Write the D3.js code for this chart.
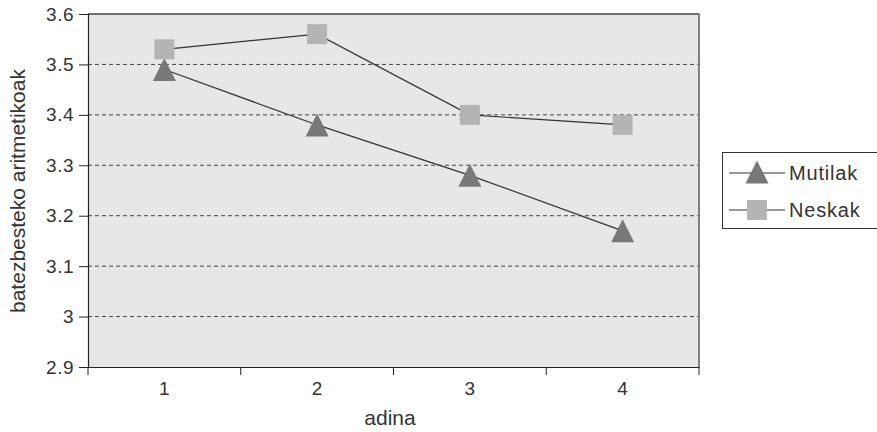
<!DOCTYPE html>
<html><head><meta charset="utf-8">
<script src="https://cdn.jsdelivr.net/npm/d3@7"></script>
<style>body{margin:0;background:#fff}svg{display:block}text{font-family:"Liberation Sans",Arial,sans-serif;fill:#333}</style>
</head><body><svg id="c" width="877" height="432"></svg>
<script>
const categories = ["1","2","3","4"];
const mutilak = [3.49, 3.38, 3.28, 3.17];
const neskak = [3.53, 3.56, 3.40, 3.38];
const yTicks = [2.9, 3, 3.1, 3.2, 3.3, 3.4, 3.5, 3.6];
const seriesNames = ["Mutilak", "Neskak"];

const svg = d3.select("#c");
const L = 88, R = 699, T = 14, B = 367;
const x = d3.scaleBand().domain(categories).range([L, R]);
const y = d3.scaleLinear().domain([2.9, 3.6]).range([B, T]);

svg.append("rect").attr("x", L).attr("y", T).attr("width", R - L).attr("height", B - T).attr("fill", "#e6e7e8");

// grid
svg.append("g").selectAll("line").data(yTicks.filter(d => d > 2.95 && d < 3.55)).join("line")
  .attr("x1", L).attr("x2", R).attr("y1", d => y(d)).attr("y2", d => y(d))
  .attr("stroke", "#444").attr("stroke-width", 1).attr("stroke-dasharray", "4,3");

// border top/right
svg.append("line").attr("x1", L).attr("x2", R).attr("y1", T).attr("y2", T).attr("stroke", "#444").attr("stroke-width", 1.5);
svg.append("line").attr("x1", R).attr("x2", R).attr("y1", T - 0.7).attr("y2", B).attr("stroke", "#808080").attr("stroke-width", 2);

// axes
const yAxis = d3.axisLeft(y).tickValues(yTicks).tickSize(9).tickPadding(5).tickFormat(d => String(+d.toFixed(1)));
const gy = svg.append("g").attr("transform", `translate(${L},0)`).call(yAxis);
gy.select(".domain").attr("stroke", "#222").attr("stroke-width", 1.2);
gy.selectAll(".tick line").attr("stroke", "#222");
gy.selectAll("text").attr("font-size", 19).attr("letter-spacing", 0.5).attr("fill", "#333");

const xAxis = d3.axisBottom(x).tickSize(0).tickPadding(15);
const gx = svg.append("g").attr("transform", `translate(0,${B})`).call(xAxis);
gx.select(".domain").attr("stroke", "#222").attr("stroke-width", 1.2);
gx.selectAll("text").attr("font-size", 19).attr("fill", "#333");
// boundary ticks
const bounds = categories.map(c => x(c)).concat([x(categories[categories.length-1]) + x.bandwidth()]);
svg.append("g").selectAll("line").data(bounds).join("line")
  .attr("x1", d => d).attr("x2", d => d).attr("y1", B).attr("y2", B + 8).attr("stroke", "#222");

const cx = c => x(c) + x.bandwidth() / 2;
const line = d3.line().x((d, i) => cx(categories[i])).y(d => y(d));
svg.append("path").datum(mutilak).attr("d", line).attr("fill", "none").attr("stroke", "#333").attr("stroke-width", 1.2);
svg.append("path").datum(neskak).attr("d", line).attr("fill", "none").attr("stroke", "#333").attr("stroke-width", 1.2);

const triType = { draw(ctx) { ctx.moveTo(0, -11.5); ctx.lineTo(11.5, 11.5); ctx.lineTo(-11.5, 11.5); ctx.closePath(); } };
const tri = d3.symbol().type(triType);
svg.append("g").selectAll("path").data(mutilak).join("path")
  .attr("d", tri).attr("transform", (d, i) => `translate(${cx(categories[i])},${y(d)})`).attr("fill", "#77787a");
svg.append("g").selectAll("rect").data(neskak).join("rect")
  .attr("x", (d, i) => cx(categories[i]) - 10).attr("y", d => y(d) - 10).attr("width", 20).attr("height", 20).attr("fill", "#b3b4b6");

// axis titles
svg.append("text").attr("x", 390).attr("y", 425).attr("text-anchor", "middle").attr("font-size", 21).text("adina");
svg.append("text").attr("transform", "translate(25,191) rotate(-90)").attr("text-anchor", "middle").attr("font-size", 21).text("batezbesteko aritmetikoak");

// legend
const lg = svg.append("g");
lg.append("rect").attr("x", 722.5).attr("y", 152.5).attr("width", 170).attr("height", 76).attr("fill", "#fff").attr("stroke", "#333");
seriesNames.forEach((n, i) => {
  const ly = 173 + i * 37;
  lg.append("line").attr("x1", 729).attr("x2", 785).attr("y1", ly).attr("y2", ly).attr("stroke", "#333").attr("stroke-width", 1.2);
  if (i === 0) lg.append("path").attr("d", tri).attr("transform", `translate(757,${ly - 1})`).attr("fill", "#77787a");
  else lg.append("rect").attr("x", 747).attr("y", ly - 10).attr("width", 20).attr("height", 20).attr("fill", "#b3b4b6");
  lg.append("text").attr("x", 789).attr("y", ly + 7).attr("font-size", 20).attr("letter-spacing", 0.8).text(n);
});
</script></body></html>
